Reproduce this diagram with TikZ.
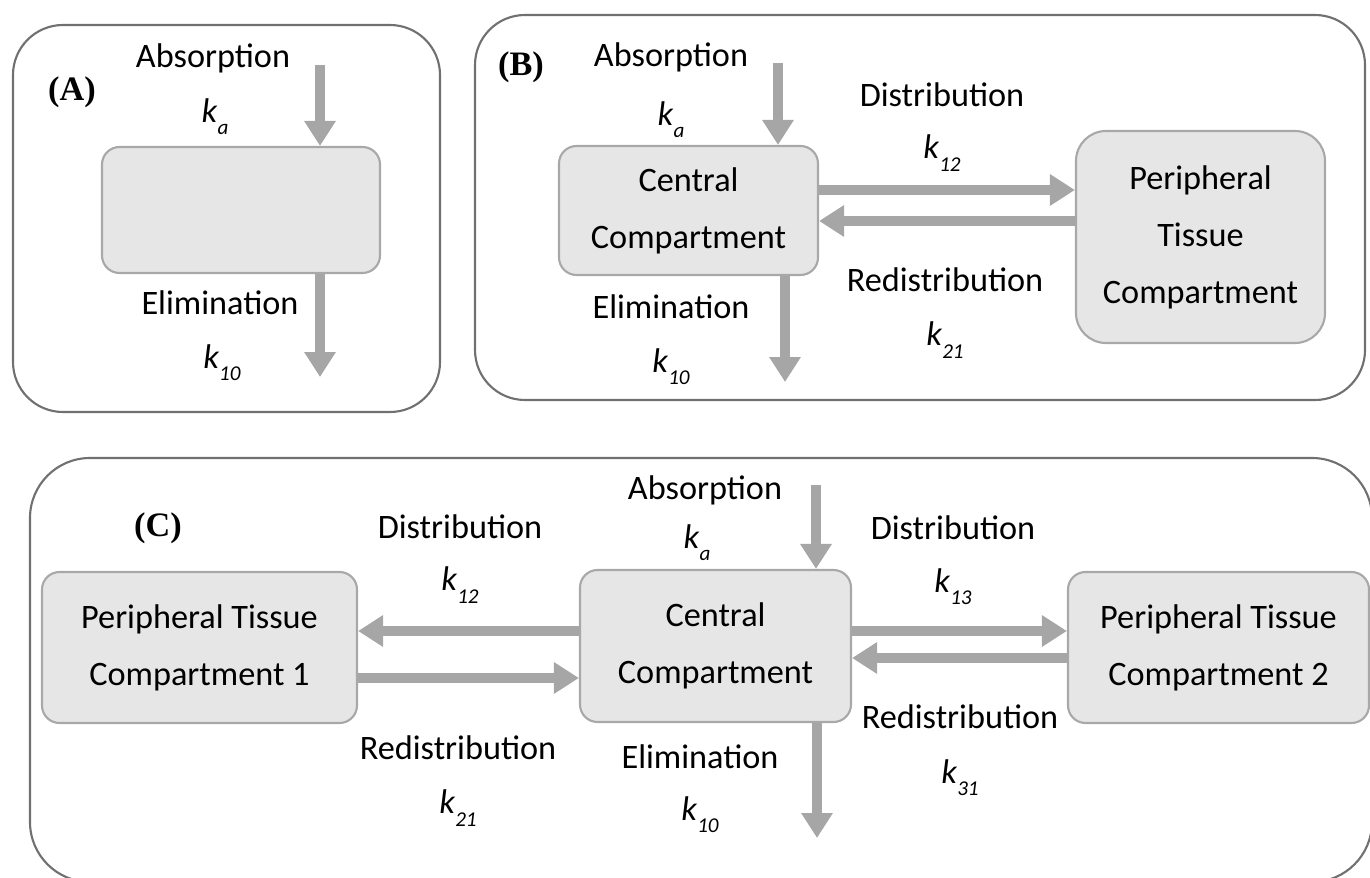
\documentclass[tikz,border=0pt]{standalone}
\usepackage{fontspec}
\setmainfont{Carlito}
\newfontfamily\tagfont{Liberation Serif}
\usetikzlibrary{arrows.meta,positioning,calc}
\definecolor{boxfill}{HTML}{E6E6E6}
\definecolor{boxline}{HTML}{A8A8A8}
\definecolor{framec}{HTML}{707070}
\definecolor{flowc}{HTML}{A6A6A6}
\newcommand{\krate}[1]{\textit{k}\raisebox{-0.75ex}{\fontsize{12}{12}\selectfont\textit{#1}}}
\tikzset{
  frame/.style={draw=framec,line width=1.2pt,rounded corners=1cm},
  comp/.style={draw=boxline,fill=boxfill,line width=1.2pt,rounded corners=0.35cm,align=center,inner sep=0pt},
  flow/.style={draw=flowc,line width=0.2cm,-{Triangle[width=0.6cm,length=0.5cm]}},
  lab/.style={inner sep=0pt},
  tag/.style={inner sep=0pt,font=\fontsize{19.5}{24}\selectfont\tagfont\bfseries},
}

\begin{document}
\begin{tikzpicture}[font=\fontsize{19.5}{32.4}\selectfont]
  \useasboundingbox (0,0) rectangle (27.4,-17.56);
  % (A) one compartment
  \draw[frame] (0.26,-0.50) rectangle (8.80,-8.24);
  \node[tag] (tagA) at (1.44,-1.84) {(A)};
  \node[comp,minimum width=5.56cm,minimum height=2.52cm] (boxA) at (4.82,-4.20) {};
  \node[lab] (absA) at (4.26,-1.16) {Absorption};
  \node[lab] (kaA) at (4.30,-2.34) {\krate{a}};
  \node[lab] (elimA) at (4.40,-6.06) {Elimination};
  \node[lab] (k10A) at (4.44,-7.26) {\krate{10}};
  \coordinate (inA) at (6.40,-1.30);
  \coordinate (outA) at (6.40,-7.54);
  \draw[flow] (inA) -- (inA |- boxA.north);
  \draw[flow] (outA |- boxA.south) -- (outA);
  % (B) two compartments
  \draw[frame] (9.50,-0.30) rectangle (27.30,-8.00);
  \node[tag] (tagB) at (10.42,-1.34) {(B)};
  \node[comp,minimum width=5.18cm,minimum height=2.58cm] (cenB) at (13.77,-4.21) {Central\\Compartment};
  \node[comp,minimum width=4.98cm,minimum height=4.24cm,rounded corners=0.6cm] (perB) at (24.01,-4.74) {Peripheral\\Tissue\\Compartment};
  \node[lab] (absB) at (13.42,-1.14) {Absorption};
  \node[lab] (kaB) at (13.42,-2.40) {\krate{a}};
  \node[lab] (distB) at (18.84,-1.90) {Distribution};
  \node[lab] (k12B) at (18.84,-3.06) {\krate{12}};
  \node[lab] (redB) at (18.90,-5.60) {Redistribution};
  \node[lab] (k21B) at (18.90,-6.80) {\krate{21}};
  \node[lab] (elimB) at (13.42,-6.14) {Elimination};
  \node[lab] (k10B) at (13.42,-7.34) {\krate{10}};
  \coordinate (inB) at (15.56,-1.26);
  \coordinate (outB) at (15.70,-7.64);
  \draw[flow] (inB) -- (inB |- cenB.north);
  \draw[flow] (outB |- cenB.south) -- (outB);
  \draw[flow] (cenB.east |- 0,-3.80) -- (perB.west |- 0,-3.80);
  \draw[flow] (perB.west |- 0,-4.42) -- (cenB.east |- 0,-4.42);
  % (C) three compartments
  \draw[frame,rounded corners=1.2cm] (0.60,-9.16) rectangle (27.44,-17.64);
  \node[tag] (tagC) at (3.16,-10.56) {(C)};
  \node[comp,minimum width=6.30cm,minimum height=3.02cm] (perC1) at (3.99,-12.95) {Peripheral Tissue\\Compartment 1};
  \node[comp,minimum width=5.42cm,minimum height=3.04cm] (cenC) at (14.31,-12.92) {Central\\Compartment};
  \node[comp,minimum width=6.02cm,minimum height=3.02cm] (perC2) at (24.37,-12.95) {Peripheral Tissue\\Compartment 2};
  \node[lab] (distC1) at (9.20,-10.54) {Distribution};
  \node[lab] (k12C) at (9.20,-11.70) {\krate{12}};
  \node[lab] (redC1) at (9.16,-14.96) {Redistribution};
  \node[lab] (k21C) at (9.16,-16.16) {\krate{21}};
  \node[lab] (absC) at (14.10,-9.80) {Absorption};
  \node[lab] (kaC) at (13.94,-10.86) {\krate{a}};
  \node[lab] (elimC) at (14.00,-15.14) {Elimination};
  \node[lab] (k10C) at (14.00,-16.30) {\krate{10}};
  \node[lab] (distC2) at (19.06,-10.56) {Distribution};
  \node[lab] (k13C) at (19.06,-11.74) {\krate{13}};
  \node[lab] (redC2) at (19.20,-14.34) {Redistribution};
  \node[lab] (k31C) at (19.20,-15.56) {\krate{31}};
  \coordinate (inC) at (16.32,-9.70);
  \coordinate (outC) at (16.34,-16.76);
  \draw[flow] (inC) -- (inC |- cenC.north);
  \draw[flow] (outC |- cenC.south) -- (outC);
  \draw[flow] (cenC.west |- 0,-12.62) -- (perC1.east |- 0,-12.62);
  \draw[flow] (perC1.east |- 0,-13.56) -- (cenC.west |- 0,-13.56);
  \draw[flow] (cenC.east |- 0,-12.62) -- (perC2.west |- 0,-12.62);
  \draw[flow] (perC2.west |- 0,-13.16) -- (cenC.east |- 0,-13.16);
\end{tikzpicture}
\end{document}
